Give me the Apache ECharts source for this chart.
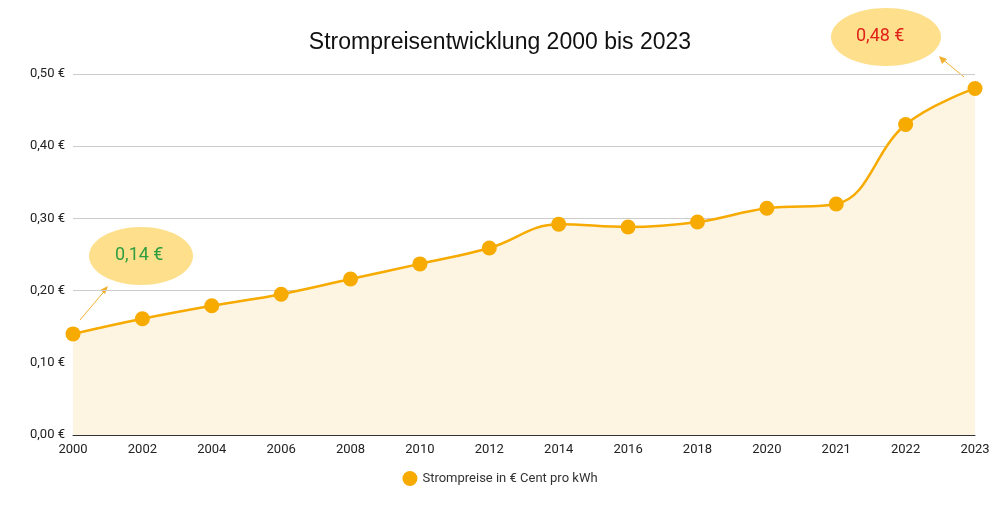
<!DOCTYPE html>
<html><head><meta charset="utf-8">
<script src="https://cdn.jsdelivr.net/npm/echarts@6/dist/echarts.min.js"></script>
<style>html,body{margin:0;padding:0;background:#fff}#c{width:1000px;height:515px}</style>
</head><body><div id="c"></div>
<script>
const years = ['2000','2002','2004','2006','2008','2010','2012','2014','2016','2018','2020','2021','2022','2023'];
const prices = [0.14,0.161,0.179,0.195,0.216,0.237,0.259,0.292,0.288,0.295,0.314,0.32,0.43,0.48];
const yTicks = [0,0.1,0.2,0.3,0.4,0.5];
const chart = echarts.init(document.getElementById('c'));
const fmt = v => v.toFixed(2).replace('.', ',') + ' €';
chart.setOption({
  animation:false,
  title:{text:'Strompreisentwicklung 2000 bis 2023',left:'center',top:26,textStyle:{fontFamily:'Liberation Sans',fontSize:23,fontWeight:'normal',color:'#111'}},
  grid:{left:73,right:25,top:74,bottom:80},
  legend:{bottom:24,icon:'circle',itemWidth:15,itemHeight:15,textStyle:{fontFamily:'Roboto',fontSize:13,color:'#333'},data:['Strompreise in € Cent pro kWh']},
  xAxis:{type:'category',data:years,boundaryGap:false,axisTick:{show:false},axisLine:{lineStyle:{color:'#333'}},axisLabel:{fontFamily:'Roboto',fontSize:13,color:'#222',margin:8}},
  yAxis:{type:'value',min:0,max:0.5,interval:0.1,axisLabel:{formatter:fmt,fontFamily:'Roboto',fontSize:13,color:'#222'},splitLine:{lineStyle:{color:'#ccc'}}},
  series:[{name:'Strompreise in € Cent pro kWh',type:'line',smooth:0.4,data:prices,symbol:'circle',symbolSize:15,
    itemStyle:{color:'#f7aa00'},lineStyle:{color:'#f7aa00',width:2.5},areaStyle:{color:'#fdf5e1',opacity:1}}],
  graphic:[
    {type:'ellipse',shape:{cx:141,cy:256,rx:52,ry:29},style:{fill:'#fddf8c'}},
    {type:'text',left:115,top:246,style:{text:'0,14 €',fill:'#2f9e3f',font:'18px Roboto'}},
    {type:'line',shape:{x1:80,y1:320,x2:107,y2:288},style:{stroke:'#f0b030',lineWidth:1}},
    {type:'polygon',shape:{points:[[108,286],[100,290],[105,294]]},style:{fill:'#f0b030'}},
    {type:'ellipse',shape:{cx:886,cy:37,rx:55,ry:29},style:{fill:'#fddf8c'}},
    {type:'text',left:856,top:27,style:{text:'0,48 €',fill:'#e0221a',font:'18px Roboto'}},
    {type:'line',shape:{x1:964,y1:77,x2:941,y2:58},style:{stroke:'#f0b030',lineWidth:1}},
    {type:'polygon',shape:{points:[[939,56],[942,64],[947,59]]},style:{fill:'#f0b030'}}
  ]
});
</script></body></html>
